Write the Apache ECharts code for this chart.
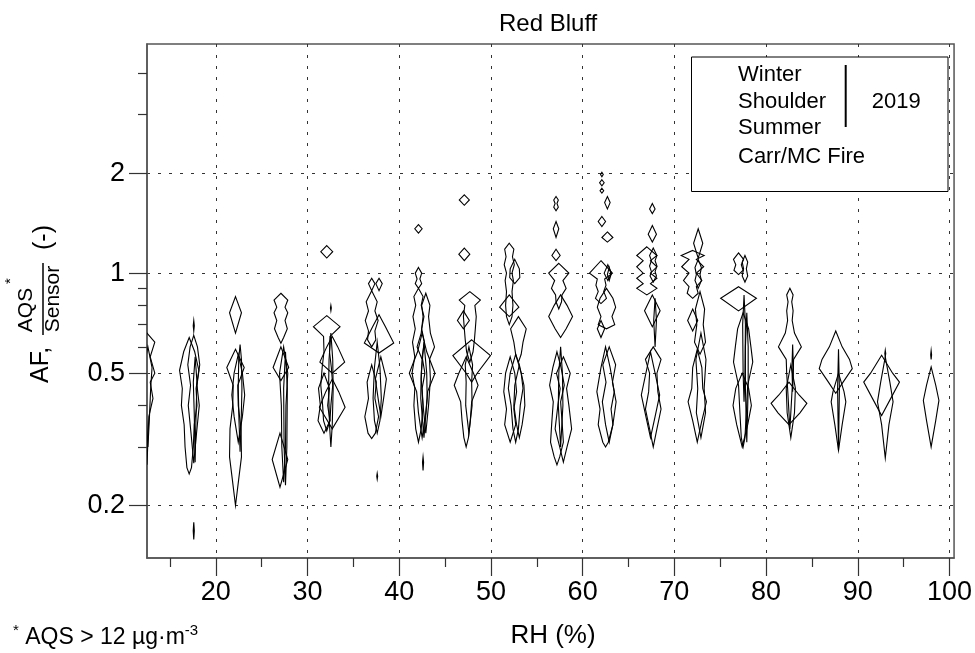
<!DOCTYPE html>
<html>
<head>
<meta charset="utf-8">
<script src="https://cdn.jsdelivr.net/npm/echarts@6/dist/echarts.min.js"></script>
<style>
  html, body { margin: 0; padding: 0; background: #fff; }
  #chart { width: 975px; height: 653px; }
</style>
</head>
<body>
<div id="chart"></div>
<script>
// ---------------- DATA ----------------
// x tick values (RH %)
const xMajorTicks = [20, 30, 40, 50, 60, 70, 80, 90, 100];
const xMinorTicks = [15, 25, 35, 45, 55, 65, 75, 85, 95];
// y tick values (AF, log scale)
const yMajorTicks = [0.2, 0.5, 1, 2];
const yMinorTicks = [0.3, 0.4, 0.6, 0.7, 0.8, 0.9, 3, 4];
const legendLabels = ['Winter', 'Shoulder', 'Summer', 'Carr/MC Fire'];
const legendYear = '2019';

// Violins per RH bin: [RH centre, [[AF, half-width (RH units)], ... top to bottom]]
const v12 = [
  [12.5, [[0.66,0],[0.62,0.85],[0.56,0.35],[0.5,0.85],[0.47,0.35],[0.42,0.65],[0.37,0.2],[0.265,0]]],
  [12.6, [[0.6,0],[0.52,0.45],[0.45,0.3],[0.36,0.15],[0.3,0]]]
];
const v17 = [
  [17.6, [[0.72,0],[0.695,0.06],[0.67,0]]],
  [17.1, [[0.64,0],[0.58,0.6],[0.51,1.05],[0.45,0.75],[0.4,0.85],[0.35,0.55],[0.3,0.45],[0.26,0.25],[0.249,0]]],
  [17.6, [[0.65,0],[0.6,0.4],[0.53,0.65],[0.46,0.35],[0.4,0.6],[0.33,0.3],[0.268,0]]],
  [17.75, [[0.56,0],[0.47,0.2],[0.38,0.1],[0.27,0]]],
  [17.6, [[0.178,0],[0.168,0.06],[0.158,0]]]
];
const v22 = [
  [22.15, [[0.85,0],[0.76,0.65],[0.66,0]]],
  [22.15, [[0.59,0],[0.52,0.95],[0.46,0.25],[0.4,0.3],[0.34,0.6],[0.28,0.65],[0.24,0.35],[0.2,0]]],
  [22.65, [[0.61,0],[0.55,0.15],[0.45,0.2],[0.36,0.12],[0.29,0]]],
  [22.45, [[0.57,0],[0.5,0.45],[0.43,0.7],[0.37,0.45],[0.31,0]]]
];
const v27 = [
  [27.1, [[0.87,0],[0.83,0.75],[0.79,0.45],[0.76,0.75],[0.72,0.45],[0.68,0.7],[0.64,0.3],[0.615,0]]],
  [27.1, [[0.6,0],[0.52,0.85],[0.475,0]]],
  [27.4, [[0.6,0],[0.5,0.45],[0.4,0.25],[0.3,0.2],[0.235,0]]],
  [27.0, [[0.33,0],[0.275,0.85],[0.227,0]]],
  [27.6, [[0.58,0],[0.45,0.2],[0.3,0.15],[0.23,0]]]
];
const v32 = [
  [32.1, [[1.21,0],[1.16,0.65],[1.11,0]]],
  [32.55, [[0.8,0],[0.785,0.05],[0.77,0]]],
  [32.1, [[0.745,0],[0.69,1.45],[0.645,0.35],[0.58,0.3],[0.52,0.5],[0.46,0.65],[0.4,0.45],[0.36,0.35],[0.335,0]]],
  [32.7, [[0.645,0],[0.6,0.6],[0.54,1.35],[0.5,0]]],
  [32.7, [[0.48,0],[0.44,0.7],[0.395,1.4],[0.34,0]]],
  [32.55, [[0.66,0],[0.55,0.2],[0.45,0.25],[0.35,0.15],[0.3,0]]],
  [31.8, [[0.5,0],[0.45,0.6],[0.4,0.4],[0.36,0.65],[0.33,0]]]
];
const v37 = [
  [37.0, [[0.965,0],[0.93,0.35],[0.885,0]]],
  [37.8, [[0.965,0],[0.93,0.35],[0.885,0]]],
  [37.0, [[0.885,0],[0.82,0.6],[0.77,0.35],[0.72,0.7],[0.67,0.35],[0.63,0.45],[0.6,0]]],
  [37.8, [[0.75,0],[0.69,0.7],[0.616,1.6],[0.575,0]]],
  [37.0, [[0.53,0],[0.47,0.5],[0.42,0.35],[0.37,0.75],[0.33,0.4],[0.318,0]]],
  [37.6, [[0.62,0],[0.52,0.3],[0.42,0.45],[0.36,0.3],[0.33,0]]],
  [38.0, [[0.56,0],[0.48,0.6],[0.42,0.3],[0.37,0]]],
  [37.6, [[0.25,0],[0.245,0.05],[0.24,0]]]
];
const v42 = [
  [42.1, [[1.4,0],[1.36,0.4],[1.32,0]]],
  [42.1, [[1.04,0],[1.0,0.35],[0.96,0.15],[0.93,0.35],[0.9,0]]],
  [42.1, [[0.9,0],[0.85,0.5],[0.8,0.3],[0.74,0.6],[0.68,0.35],[0.62,0.65],[0.56,0.4],[0.5,0.7],[0.45,0.4],[0.4,0.5],[0.34,0.3],[0.31,0]]],
  [42.9, [[0.87,0],[0.8,0.45],[0.74,0.3],[0.66,0.5],[0.6,0.95],[0.55,0.4],[0.48,0.5],[0.4,0.3],[0.33,0]]],
  [42.5, [[0.66,0],[0.58,0.5],[0.5,1.4],[0.44,0.6],[0.38,0.4],[0.32,0]]],
  [42.7, [[0.62,0],[0.5,0.3],[0.42,0.35],[0.32,0]]],
  [42.6, [[0.28,0],[0.27,0.06],[0.255,0]]]
];
const v47 = [
  [47.1, [[1.72,0],[1.66,0.55],[1.6,0]]],
  [47.1, [[1.19,0],[1.14,0.6],[1.09,0]]],
  [47.7, [[0.88,0],[0.83,1.15],[0.8,0.55],[0.74,0.7],[0.68,0.6],[0.63,0.5],[0.58,0.35],[0.54,0]]],
  [47.0, [[0.77,0],[0.72,0.65],[0.68,0]]],
  [47.9, [[0.63,0],[0.565,2.05],[0.5,0.6],[0.47,0]]],
  [47.3, [[0.56,0],[0.5,0.8],[0.46,1.3],[0.41,0.6],[0.36,0.45],[0.32,0.25],[0.3,0]]],
  [47.6, [[0.6,0],[0.53,0.4],[0.47,0.3],[0.4,0.35],[0.33,0]]]
];
const v52 = [
  [52.0, [[1.23,0],[1.18,0.5],[1.12,0.35],[1.06,0.55],[1.0,0.3],[0.95,0.45],[0.88,0.3],[0.8,0.4],[0.74,0.3],[0.7,0]]],
  [52.6, [[1.1,0],[1.03,0.5],[0.97,0.55],[0.93,0]]],
  [52.0, [[0.86,0],[0.79,1.05],[0.74,0]]],
  [53.0, [[0.74,0],[0.68,0.85],[0.62,0.5],[0.57,0.3],[0.54,0]]],
  [52.1, [[0.56,0],[0.5,0.5],[0.44,0.7],[0.39,0.4],[0.35,0.6],[0.31,0]]],
  [52.7, [[0.57,0],[0.5,0.6],[0.45,0.8],[0.4,0.5],[0.34,0.3],[0.31,0]]],
  [53.1, [[0.53,0],[0.46,0.5],[0.4,0.6],[0.35,0.3],[0.32,0]]]
];
const v57 = [
  [57.1, [[1.7,0],[1.66,0.25],[1.62,0.1],[1.58,0.25],[1.54,0]]],
  [57.1, [[1.43,0],[1.36,0.3],[1.28,0]]],
  [57.1, [[1.18,0],[1.13,0.45],[1.09,0]]],
  [57.4, [[1.07,0],[1.0,1.1],[0.95,0.45],[0.9,0.8],[0.86,0.35],[0.82,0.3],[0.78,0]]],
  [57.6, [[0.86,0],[0.8,0.7],[0.74,1.3],[0.68,0.6],[0.64,0]]],
  [57.2, [[0.58,0],[0.52,0.45],[0.46,0.8],[0.41,0.4],[0.36,0.55],[0.31,0.7],[0.28,0.3],[0.265,0]]],
  [57.9, [[0.56,0],[0.5,0.75],[0.45,0.35],[0.4,0.6],[0.34,0.9],[0.3,0.4],[0.27,0]]],
  [57.6, [[0.6,0],[0.5,0.2],[0.4,0.25],[0.3,0]]]
];
const v62 = [
  [62.1, [[2.01,0],[1.98,0.15],[1.95,0]]],
  [62.1, [[1.91,0],[1.87,0.25],[1.83,0]]],
  [62.1, [[1.8,0],[1.77,0.2],[1.74,0]]],
  [62.7, [[1.7,0],[1.63,0.3],[1.56,0]]],
  [62.1, [[1.48,0],[1.43,0.4],[1.38,0]]],
  [62.7, [[1.33,0],[1.28,0.6],[1.24,0]]],
  [62.0, [[1.09,0],[1.0,1.25],[0.96,0.4],[0.92,0.55],[0.88,0.3],[0.84,0.6],[0.81,0]]],
  [62.75, [[1.06,0],[1.0,0.4],[0.95,0]]],
  [62.9, [[1.04,0],[0.99,0.2],[0.95,0]]],
  [62.6, [[0.9,0],[0.84,0.7],[0.79,1.0],[0.74,0.6],[0.7,0.9],[0.68,0]]],
  [62.0, [[0.72,0],[0.68,0.4],[0.64,0]]],
  [62.5, [[0.6,0],[0.52,0.5],[0.44,0.95],[0.39,0.6],[0.35,0.8],[0.31,0.3],[0.3,0]]],
  [62.9, [[0.6,0],[0.53,0.7],[0.47,0.35],[0.41,0.75],[0.35,0.4],[0.31,0]]]
];
const v67 = [
  [67.6, [[1.62,0],[1.56,0.3],[1.51,0]]],
  [67.6, [[1.39,0],[1.31,0.45],[1.24,0]]],
  [67.0, [[1.2,0],[1.13,1.1],[1.09,0.4],[1.045,1.1],[1.0,0.4],[0.965,1.1],[0.93,0.4],[0.9,1.1],[0.86,0]]],
  [67.7, [[1.19,0],[1.13,0.4],[1.09,0.2],[1.05,0.4],[1.01,0.2],[0.98,0.35],[0.94,0]]],
  [67.6, [[0.86,0],[0.77,0.85],[0.69,0]]],
  [67.9, [[0.84,0],[0.72,0.15],[0.6,0]]],
  [67.7, [[0.6,0],[0.55,0.85],[0.5,0.4],[0.44,0.5],[0.39,0.85],[0.34,0.4],[0.3,0]]],
  [67.4, [[0.58,0],[0.5,0.5],[0.43,1.0],[0.37,0.5],[0.32,0]]]
];
const v72 = [
  [72.6, [[1.36,0],[1.23,0.5],[1.11,0]]],
  [72.0, [[1.17,0],[1.13,1.25],[1.1,0.4],[1.045,1.2],[1.0,0.4],[0.95,1.0],[0.91,0.4],[0.87,0.6],[0.84,0]]],
  [72.6, [[1.1,0],[1.04,0.35],[0.99,0.2],[0.95,0.35],[0.9,0]]],
  [72.0, [[0.78,0],[0.72,0.55],[0.67,0]]],
  [72.8, [[0.88,0],[0.78,0.5],[0.7,0.35],[0.62,0.6],[0.57,0]]],
  [72.5, [[0.59,0],[0.52,0.5],[0.45,0.6],[0.41,1.0],[0.36,0.5],[0.31,0]]],
  [72.9, [[0.66,0],[0.55,0.55],[0.45,0.35],[0.38,0.5],[0.32,0]]]
];
const v77 = [
  [77.0, [[1.15,0],[1.1,0.55],[1.06,0.3],[1.02,0.5],[0.99,0]]],
  [77.7, [[1.13,0],[1.08,0.3],[1.03,0.15],[0.98,0.3],[0.94,0]]],
  [77.0, [[0.91,0],[0.84,1.95],[0.77,0]]],
  [77.6, [[0.86,0],[0.7,0.15],[0.5,0.1],[0.41,0]]],
  [77.5, [[0.76,0],[0.68,0.6],[0.6,0.85],[0.54,1.05],[0.46,0.5],[0.38,0.35],[0.32,0.2],[0.3,0]]],
  [77.9, [[0.76,0],[0.6,0.15],[0.45,0.15],[0.31,0]]],
  [77.4, [[0.5,0],[0.45,0.7],[0.4,1.0],[0.35,0.6],[0.3,0]]]
];
const v82 = [
  [82.6, [[0.9,0],[0.86,0.35],[0.82,0.2],[0.77,0.35],[0.72,0.25],[0.66,0.5],[0.6,1.25],[0.55,0.4],[0.5,0.35],[0.45,0.25],[0.34,0]]],
  [82.5, [[0.47,0],[0.43,1.1],[0.406,1.95],[0.38,1.2],[0.35,0]]],
  [82.9, [[0.61,0],[0.52,0.08],[0.44,0]]],
  [82.7, [[0.53,0],[0.45,0.5],[0.38,0.4],[0.32,0]]]
];
const v87 = [
  [87.6, [[0.67,0],[0.6,0.7],[0.55,1.5],[0.516,1.8],[0.47,0.8],[0.435,0]]],
  [87.9, [[0.59,0],[0.45,0.1],[0.293,0]]],
  [87.9, [[0.5,0],[0.44,0.6],[0.41,0.8],[0.35,0.4],[0.293,0]]]
];
const v92 = [
  [93.0, [[0.586,0],[0.573,0.05],[0.56,0]]],
  [92.6, [[0.566,0],[0.5,1.2],[0.47,1.95],[0.42,1.0],[0.373,0]]],
  [93.0, [[0.56,0],[0.47,0.5],[0.41,0.85],[0.35,0.4],[0.278,0]]]
];
const v97 = [
  [98.0, [[0.585,0],[0.568,0.05],[0.55,0]]],
  [98.0, [[0.522,0],[0.46,0.5],[0.414,0.85],[0.36,0.5],[0.3,0]]]
];

// ---------------- CHART ----------------
const FONT = '"Liberation Sans", Arial, sans-serif';
const violins = [].concat(v12, v17, v22, v27, v32, v37, v42, v47, v52, v57, v62, v67, v72, v77, v82, v87, v92, v97);
const L = Math.log10;
const xMin = 12.5, xMax = 100.5;
const yMin = L(0.139), yMax = L(4.89);
const frameColor = '#555';
const gridLineStyle = { type: [3, 8], color: '#333', width: 1 };

const chart = echarts.init(document.getElementById('chart'), null, { renderer: 'canvas' });

const option = {
  animation: false,
  backgroundColor: '#fff',
  title: {
    text: 'Red Bluff',
    left: 494, top: 7,
    textStyle: { fontFamily: FONT, fontSize: 24, fontWeight: 'normal', color: '#000' }
  },
  grid: {
    left: 147, right: 20, top: 44, bottom: 95,
    show: true, borderColor: frameColor, borderWidth: 1.5, containLabel: false
  },
  xAxis: [
    {
      type: 'value', min: xMin, max: xMax, position: 'bottom',
      axisLine: { show: true, onZero: false, lineStyle: { color: frameColor, width: 1.5 } },
      axisTick: { show: true, customValues: xMajorTicks, length: 18, lineStyle: { color: '#333', width: 1.2 } },
      axisLabel: { customValues: xMajorTicks, fontFamily: FONT, fontSize: 27, color: '#000', margin: 21 },
      splitLine: { show: true, lineStyle: gridLineStyle }
    },
    {
      type: 'value', min: xMin, max: xMax, position: 'bottom',
      axisLine: { show: false, onZero: false },
      axisTick: { show: true, customValues: xMinorTicks, length: 9, lineStyle: { color: '#333', width: 1.2 } },
      axisLabel: { show: false },
      splitLine: { show: false }
    }
  ],
  yAxis: [
    {
      type: 'value', min: yMin, max: yMax, position: 'left',
      axisLine: { show: true, onZero: false, lineStyle: { color: frameColor, width: 1.5 } },
      axisTick: { show: true, customValues: yMajorTicks.map(L), length: 18, lineStyle: { color: '#333', width: 1.2 } },
      axisLabel: {
        customValues: yMajorTicks.map(L), fontFamily: FONT, fontSize: 27, color: '#000', margin: 22,
        formatter: v => String(+Math.pow(10, v).toPrecision(3))
      },
      splitLine: { show: true, lineStyle: gridLineStyle }
    },
    {
      type: 'value', min: yMin, max: yMax, position: 'left',
      axisLine: { show: false, onZero: false },
      axisTick: { show: true, customValues: yMinorTicks.map(L), length: 9, lineStyle: { color: '#333', width: 1.2 } },
      axisLabel: { show: false },
      splitLine: { show: false }
    }
  ],
  series: [{
    type: 'custom',
    coordinateSystem: 'cartesian2d',
    xAxisIndex: 0, yAxisIndex: 0,
    clip: true,
    silent: true,
    data: violins.map((v, i) => [v[0], L(v[1][0][0]), i]),
    renderItem: function (params, api) {
      const v = violins[params.dataIndex];
      const rh = v[0], knots = v[1];
      const right = knots.map(k => api.coord([rh + k[1], L(k[0])]));
      const left = knots.slice().reverse().map(k => api.coord([rh - k[1], L(k[0])]));
      return {
        type: 'polygon',
        shape: { points: right.concat(left) },
        style: { fill: 'none', stroke: '#000', lineWidth: 1.1 }
      };
    }
  }],
  graphic: [
    // legend box
    { type: 'rect', z: 100, shape: { x: 691.5, y: 57, width: 256.5, height: 134.5 },
      style: { fill: '#fff', stroke: '#000', lineWidth: 1 } },
    ...legendLabels.map((t, i) => ({
      type: 'text', z: 101, x: 738, y: [75, 101.7, 128, 157][i],
      style: { text: t, fontFamily: FONT, fontSize: 22, fill: '#000', align: 'left', verticalAlign: 'middle' }
    })),
    { type: 'line', z: 101, shape: { x1: 845.7, y1: 65, x2: 845.7, y2: 127 },
      style: { stroke: '#000', lineWidth: 2 } },
    { type: 'text', z: 101, x: 871.7, y: 101.7,
      style: { text: legendYear, fontFamily: FONT, fontSize: 22, fill: '#000', align: 'left', verticalAlign: 'middle' } },
    // x axis name
    { type: 'text', z: 101, x: 553, y: 636,
      style: { text: 'RH (%)', fontFamily: FONT, fontSize: 26, fill: '#000', align: 'center', verticalAlign: 'middle' } },
    // footnote
    { type: 'text', z: 101, x: 13, y: 638,
      style: {
        text: '{s|*} AQS > 12 µg·m{s|-3}', fontFamily: FONT, fontSize: 23, fill: '#000',
        align: 'left', verticalAlign: 'middle',
        rich: { s: { fontFamily: FONT, fontSize: 15, fill: '#000', verticalAlign: 'top', padding: [0, 0, 14, 0] } }
      } },
    // y axis name (rotated)
    { type: 'group', x: 40, y: 300, rotation: Math.PI / 2, z: 101,
      children: [
        { type: 'text', x: -83, y: 1,
          style: { text: 'AF,', fontFamily: FONT, fontSize: 25, fill: '#000', align: 'left', verticalAlign: 'middle' } },
        { type: 'text', x: -10, y: -14,
          style: { text: 'AQS', fontFamily: FONT, fontSize: 21, fill: '#000', align: 'center', verticalAlign: 'middle' } },
        { type: 'text', x: 19, y: -29,
          style: { text: '*', fontFamily: FONT, fontSize: 15, fill: '#000', align: 'center', verticalAlign: 'middle' } },
        { type: 'line', shape: { x1: -35, y1: 3, x2: 37, y2: 3 }, style: { stroke: '#000', lineWidth: 1.5 } },
        { type: 'text', x: 1, y: 13,
          style: { text: 'Sensor', fontFamily: FONT, fontSize: 21, fill: '#000', align: 'center', verticalAlign: 'middle' } },
        { type: 'text', x: 50, y: 4,
          style: { text: '(-)', fontFamily: FONT, fontSize: 25, fill: '#000', align: 'left', verticalAlign: 'middle' } }
      ]
    }
  ]
};
chart.setOption(option);
</script>
</body>
</html>
